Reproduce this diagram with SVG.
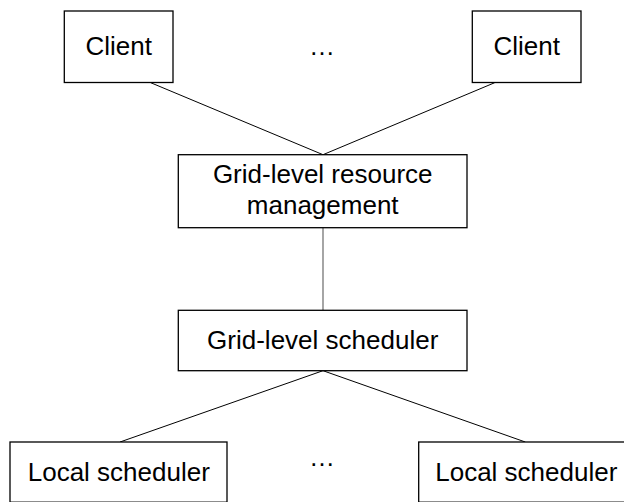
<svg xmlns="http://www.w3.org/2000/svg" width="624" height="502" viewBox="0 0 624 502">
  <style>
    .box { fill: #ffffff; stroke: #000000; stroke-width: 1.3; }
    .lbl { font-family: "Liberation Sans", Arial, sans-serif; font-size: 26px; fill: #000000; text-anchor: middle; }
    .link { stroke: #000000; stroke-width: 1; fill: none; }
    .link-v { stroke: #6a6a6a; stroke-width: 1.2; fill: none; }
  </style>
  <rect width="624" height="502" fill="#ffffff"/>

  <!-- connectors -->
  <g id="connectors">
    <line class="link" x1="150.7" y1="82.7" x2="323" y2="154.7"/>
    <line class="link" x1="494.7" y1="82.7" x2="323" y2="154.7"/>
    <line class="link-v" x1="323" y1="227.7" x2="323" y2="310.3"/>
    <line class="link" x1="323" y1="370.7" x2="120" y2="442"/>
    <line class="link" x1="323" y1="370.7" x2="525.3" y2="442"/>
  </g>

  <!-- clients -->
  <g id="client-1">
    <rect class="box" x="64.3" y="11" width="108.7" height="71.5"/>
    <text class="lbl" x="118.7" y="55">Client</text>
  </g>
  <g id="client-ellipsis">
    <text class="lbl" x="322" y="55">…</text>
  </g>
  <g id="client-n">
    <rect class="box" x="472.3" y="11" width="108.7" height="71.5"/>
    <text class="lbl" x="526.7" y="55">Client</text>
  </g>

  <!-- grid level -->
  <g id="grid-resource-management">
    <rect class="box" x="178.3" y="154.7" width="288.7" height="73"/>
    <text class="lbl" x="322.7" y="182.7">Grid-level resource</text>
    <text class="lbl" x="322.7" y="214">management</text>
  </g>
  <g id="grid-scheduler">
    <rect class="box" x="178.3" y="310.3" width="288.7" height="60.4"/>
    <text class="lbl" x="322.7" y="348.7">Grid-level scheduler</text>
  </g>

  <!-- local schedulers (bottom edge sits on the page border) -->
  <g id="local-scheduler-1">
    <rect class="box" x="10" y="442" width="217" height="60.2"/>
    <text class="lbl" x="118.8" y="480.7">Local scheduler</text>
  </g>
  <g id="local-ellipsis">
    <text class="lbl" x="322" y="466">…</text>
  </g>
  <g id="local-scheduler-n">
    <rect class="box" x="418.7" y="442" width="217" height="60.2"/>
    <text class="lbl" x="526.3" y="480.7">Local scheduler</text>
  </g>
</svg>
